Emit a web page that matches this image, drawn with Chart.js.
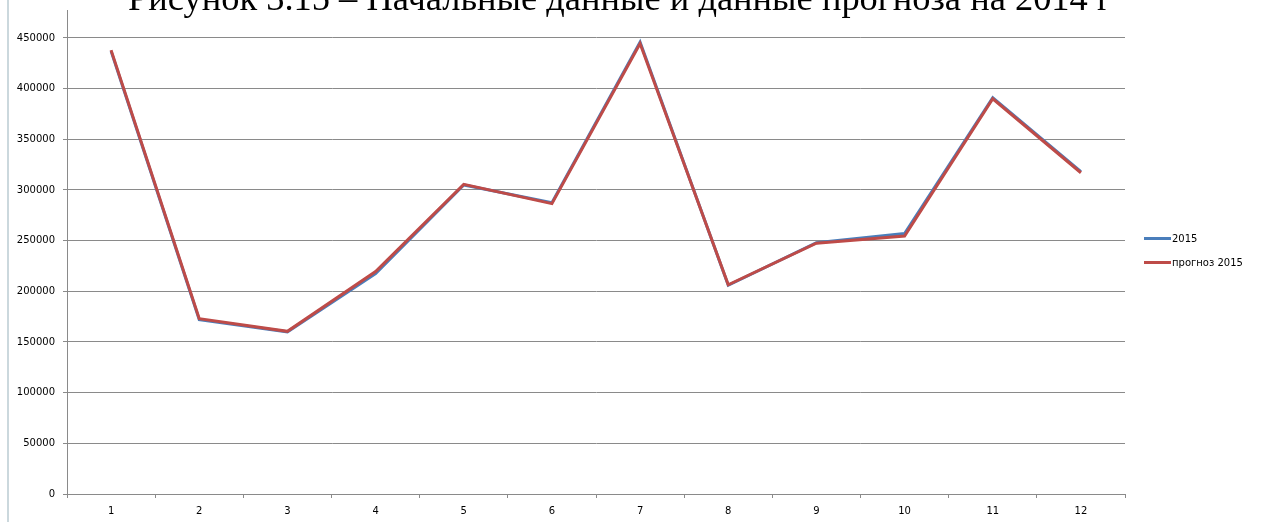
<!DOCTYPE html>
<html>
<head>
<meta charset="utf-8">
<script src="https://cdn.jsdelivr.net/npm/chart.js@4.4.1/dist/chart.umd.min.js"></script>
<style>
  html, body { margin: 0; padding: 0; background: #ffffff; }
  #frame { position: relative; width: 1261px; height: 522px; overflow: hidden; background: #ffffff; }
  #edge { position: absolute; left: 7px; top: 0; width: 2px; height: 522px; background: #cbd8dd; }
  #wrap { position: absolute; left: 0; top: -30px; width: 1261px; height: 552px; }
</style>
</head>
<body>
<div id="frame">
  <div id="edge"></div>
  <div id="wrap"><canvas id="chart"></canvas></div>
</div>
<script>
// Months of the year and monthly volumes
const months = ['1', '2', '3', '4', '5', '6', '7', '8', '9', '10', '11', '12'];
const actual2015 = [437000, 172000, 160000, 217500, 305000, 287500, 446000, 206000, 248000, 257000, 391000, 318000];
const forecast2015 = [438000, 173000, 160500, 219500, 305500, 286500, 444500, 206500, 247500, 254500, 390000, 317000];
const seriesNames = ['2015', 'прогноз 2015'];
const captionText = 'Рисунок 3.15 – Начальные данные и данные прогноза на 2014 г';

const SHIFT = 30;          // canvas is lifted by this much inside the frame
const GRID = '#8a8a8a';
const TICK_FONT = { family: 'DejaVu Sans', size: 10 };

// Caption strip above the plot and the legend on the right
const decor = {
  id: 'decor',
  afterDraw(chart) {
    const ctx = chart.ctx;
    ctx.save();
    // white caption strip hides the very top of the axis
    ctx.fillStyle = '#ffffff';
    ctx.fillRect(10, 0, chart.width, SHIFT + 10);

    // caption (its top is clipped by the frame)
    let size = 30;
    ctx.font = size + 'px "Liberation Serif"';
    const w = ctx.measureText(captionText).width;
    size = size * 984 / w;
    ctx.font = size + 'px "Liberation Serif"';
    ctx.fillStyle = '#000000';
    ctx.textBaseline = 'alphabetic';
    ctx.textAlign = 'left';
    ctx.fillText(captionText, 128, 9.5 + SHIFT);

    // legend
    ctx.font = '10px "DejaVu Sans"';
    ctx.textBaseline = 'middle';
    const rows = [238.5, 262.5];
    chart.data.datasets.forEach((ds, i) => {
      const y = rows[i] + SHIFT;
      ctx.strokeStyle = ds.borderColor;
      ctx.lineWidth = 3;
      ctx.beginPath();
      ctx.moveTo(1144, y);
      ctx.lineTo(1171, y);
      ctx.stroke();
      ctx.fillStyle = '#000000';
      ctx.fillText(ds.label, 1172, y + 0.5);
    });
    ctx.restore();
  }
};

new Chart(document.getElementById('chart'), {
  type: 'line',
  data: {
    labels: months,
    datasets: [
      {
        label: seriesNames[0],
        data: actual2015,
        borderColor: '#4a7ebb',
        backgroundColor: '#4a7ebb',
        borderWidth: 3,
        pointRadius: 0,
        tension: 0,
        order: 2
      },
      {
        label: seriesNames[1],
        data: forecast2015,
        borderColor: '#be4b48',
        backgroundColor: '#be4b48',
        borderWidth: 3,
        pointRadius: 0,
        tension: 0,
        order: 1
      }
    ]
  },
  options: {
    responsive: true,
    maintainAspectRatio: false,
    animation: false,
    devicePixelRatio: 1,
    layout: { padding: { left: 0, right: 136, top: 17.3, bottom: 0 } },
    plugins: {
      legend: { display: false },
      title: { display: false },
      tooltip: { enabled: false }
    },
    scales: {
      x: {
        offset: true,
        grid: {
          offset: true,
          drawOnChartArea: false,
          drawTicks: true,
          tickLength: 4,
          color: GRID
        },
        border: { color: GRID, width: 1 },
        ticks: { color: '#000000', font: TICK_FONT, padding: 7, maxRotation: 0, autoSkip: false },
        afterFit(scale) { scale.height = 28; }
      },
      y: {
        min: 0,
        max: 500000,
        grid: {
          color: GRID,
          lineWidth: 1,
          drawTicks: true,
          tickLength: 4
        },
        border: { color: GRID, width: 1 },
        ticks: {
          stepSize: 50000,
          color: '#000000',
          font: TICK_FONT,
          padding: 8,
          callback: (value) => String(value)
        },
        afterFit(scale) { scale.width = 67; }
      }
    }
  },
  plugins: [decor]
});
</script>
</body>
</html>
